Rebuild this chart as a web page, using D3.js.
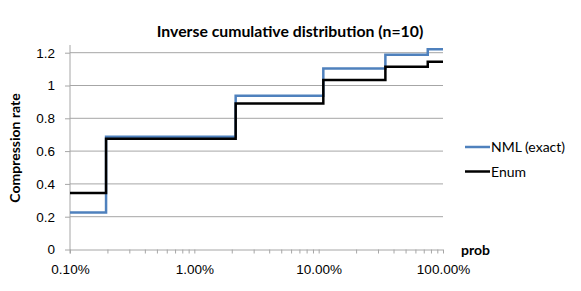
<!DOCTYPE html>
<html>
<head>
<meta charset="utf-8">
<script src="https://cdn.jsdelivr.net/npm/d3@7"></script>
<style>
    body { margin: 0; background: #fff; }
    svg { display: block; font-family: Lato, "Open Sans", sans-serif; }
    .grid line { stroke: #a6a6a6; stroke-width: 1; }
    .axis path, .axis line { stroke: #a6a6a6; }
    .axis text { fill: #000; font-size: 13.5px; }
</style>
</head>
<body>
<div id="chart"></div>
<script>
// probability where each step starts (last entry closes the final step)
const probBreaks = [0.001, 0.00195, 0.0215, 0.109, 0.344, 0.754, 1];
const nmlValues  = [0.226, 0.687, 0.938, 1.104, 1.188, 1.221];
const enumValues = [0.345, 0.675, 0.891, 1.034, 1.115, 1.145];
const seriesNames = ['NML (exact)', 'Enum'];
const seriesColors = ['#4f81bd', '#000000'];
const yTicks = [0, 0.2, 0.4, 0.6, 0.8, 1, 1.2];
const xMajor = [0.001, 0.01, 0.1, 1];

const width = 581, height = 291;
const margin = { left: 70, right: 138, top: 45, bottom: 41.5 };

const svg = d3.select('#chart').append('svg')
    .attr('width', width)
    .attr('height', height);

const x = d3.scaleLog()
    .domain([0.001, 1])
    .range([margin.left, width - margin.right]);

// 1.2 sits a bit below the top of the axis line, like the original
const y = d3.scaleLinear()
    .domain([0, 1.2])
    .range([height - margin.bottom, 52.7]);

// --- gridlines ---
svg.append('g').attr('class', 'grid')
    .selectAll('line')
    .data(yTicks.filter(d => d > 0))
    .join('line')
    .attr('x1', x.range()[0]).attr('x2', x.range()[1])
    .attr('y1', d => y(d)).attr('y2', d => y(d));

// --- y axis ---
const yAxis = svg.append('g').attr('class', 'axis')
    .attr('transform', `translate(${margin.left},0)`)
    .call(d3.axisLeft(y).tickValues(yTicks).tickSize(5).tickSizeOuter(0)
        .tickFormat(d => d3.format('~g')(d)));
yAxis.select('.domain').remove();
yAxis.append('line')
    .attr('x1', 0).attr('x2', 0)
    .attr('y1', margin.top).attr('y2', y(0) + 4);
yAxis.selectAll('text').attr('x', -15);

// --- x axis: minor ticks then major ---
const minorTicks = [];
xMajor.slice(0, -1).forEach(d => {
    for (let k = 2; k <= 9; k++) minorTicks.push(d * k);
});

const xAxisMinor = svg.append('g').attr('class', 'axis')
    .attr('transform', `translate(0,${y(0)})`)
    .call(d3.axisBottom(x).tickValues(minorTicks).tickSize(4).tickFormat(''));
xAxisMinor.select('.domain').remove();

const xAxis = svg.append('g').attr('class', 'axis')
    .attr('transform', `translate(0,${y(0)})`)
    .call(d3.axisBottom(x).tickValues(xMajor).tickSize(4).tickSizeOuter(0)
        .tickFormat(d => d3.format('.2%')(d)));
xAxis.select('.domain').attr('d', `M${x.range()[0]},0.5H${x.range()[1]}`);
xAxis.selectAll('text').attr('y', 15);

// --- step lines ---
const stepLine = d3.line()
    .x(d => x(d.p))
    .y(d => y(d.v))
    .curve(d3.curveStepAfter);

[nmlValues, enumValues].forEach((vals, i) => {
    const pts = probBreaks.map((p, j) => ({ p, v: vals[Math.min(j, vals.length - 1)] }));
    svg.append('path')
        .datum(pts)
        .attr('fill', 'none')
        .attr('stroke', seriesColors[i])
        .attr('stroke-width', 2.5)
        .attr('d', stepLine);
});

// --- title and axis titles ---
svg.append('text')
    .attr('x', 290).attr('y', 37)
    .attr('text-anchor', 'middle')
    .style('font-weight', 'bold').style('font-size', '15.8px')
    .text('Inverse cumulative distribution (n=10)');

svg.append('text')
    .attr('transform', `translate(20,148) rotate(-90)`)
    .attr('text-anchor', 'middle')
    .style('font-weight', 'bold').style('font-size', '14px')
    .text('Compression rate');

svg.append('text')
    .attr('x', 461).attr('y', 255)
    .style('font-weight', 'bold').style('font-size', '14px')
    .text('prob');

// --- legend ---
const legend = svg.append('g')
    .attr('transform', 'translate(465,147)');
seriesNames.forEach((name, i) => {
    const row = legend.append('g').attr('transform', `translate(0,${i * 24.5})`);
    row.append('line')
        .attr('x1', 0).attr('x2', 25)
        .attr('stroke', seriesColors[i]).attr('stroke-width', 2.5);
    row.append('text')
        .attr('x', 26).attr('y', 5)
        .style('font-size', '14px')
        .text(name);
});
</script>
</body>
</html>
